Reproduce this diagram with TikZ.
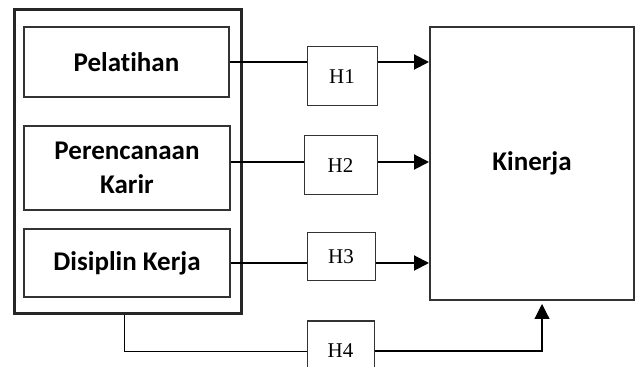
\documentclass[tikz,border=0pt]{standalone}
\usepackage{fontspec}
\setmainfont{Liberation Serif}
\newfontfamily\labelfont[Ligatures=NoCommon]{Carlito}
\usepackage{tikz}
\usetikzlibrary{positioning,calc,arrows.meta}

\begin{document}
\begin{tikzpicture}[x=0.5pt, y=-0.5pt,
    var/.style={draw=black!80, line width=1pt, align=center, inner sep=0pt, font=\labelfont\bfseries\fontsize{13.5}{17}\selectfont},
    hyp/.style={draw=black!80, line width=0.5pt, inner sep=0pt, font=\fontsize{10.5}{12}\selectfont},
    link/.style={line width=1pt},
    arrow/.style={-{Triangle[length=7.5pt, width=7.5pt]}, line width=1pt}
]
\useasboundingbox (0,0) rectangle (635,367);

% Variables
\node[draw=black!85, line width=1.5pt, minimum width=113.5pt, minimum height=152pt] (outer) at (127.5,162) {};
\node[var, minimum width=102.5pt, minimum height=35pt] (pel) at (126.5,62) {Pelatihan};
\node[var, minimum width=103pt, minimum height=42pt] (per) at (127,168) {Perencanaan\\Karir};
\node[var, minimum width=103pt, minimum height=34pt] (dis) at (127,263) {Disiplin Kerja};
\node[var, minimum width=102pt, minimum height=136.5pt] (kin) at (532,163.5) {Kinerja};

% Hypotheses
\node[hyp, minimum width=35pt, minimum height=29.5pt] (h1) at (342,76.5) {H1};
\node[hyp, minimum width=36.5pt, minimum height=29.5pt] (h2) at (340.5,165.5) {H2};
\node[hyp, minimum width=34pt, minimum height=24pt] (h3) at (341,257) {H3};
\node[hyp, minimum width=33.5pt, minimum height=30pt] (h4) at (340.5,351) {H4};

% Links
\draw[link] (pel.east) -- (pel.east -| h1.west);
\draw[arrow] (pel.east -| h1.east) -- (pel.east -| kin.west);
\draw[link] ([yshift=3pt]per.east) -- ([yshift=3pt]per.east -| h2.west);
\draw[arrow] ([yshift=3pt]per.east -| h2.east) -- ([yshift=3pt]per.east -| kin.west);
\draw[link] (dis.east) -- (dis.east -| h3.west);
\draw[arrow] (dis.east -| h3.east) -- (dis.east -| kin.west);
\draw[line width=0.5pt] ([xshift=-1.75pt]outer.south) |- (h4.west);
\draw[-{Triangle[length=7.5pt, width=7.5pt]}, line width=0.55pt] (h4.east) -| ([xshift=5pt, yshift=-1.5pt]kin.south);

\end{tikzpicture}
\end{document}
